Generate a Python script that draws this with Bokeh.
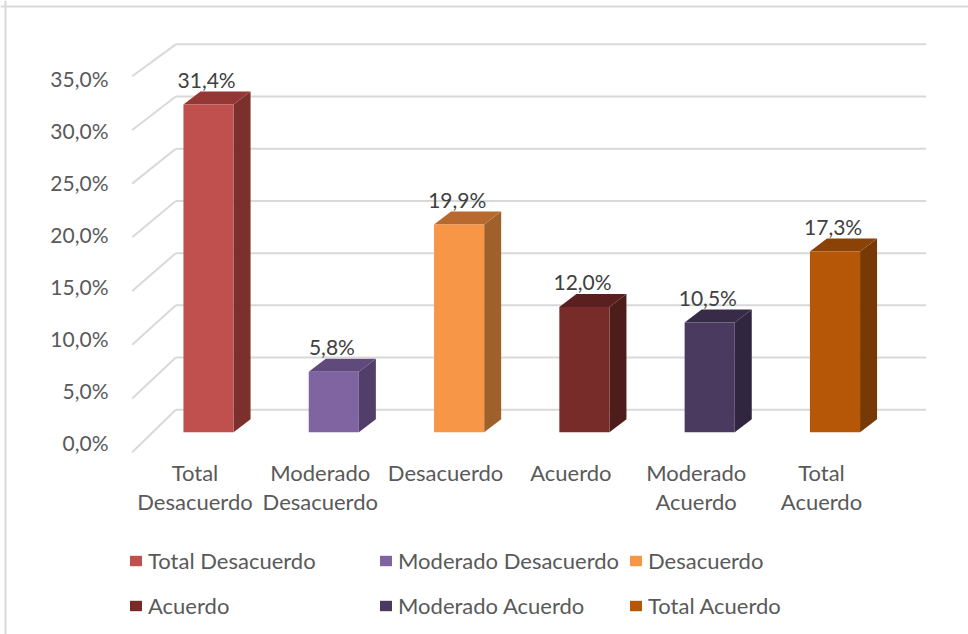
from bokeh.plotting import figure
from bokeh.models import ColumnDataSource, Legend, LegendItem, Span, Range1d
from bokeh.core.properties import value
from bokeh.embed import file_html
from bokeh.resources import INLINE

# ---------------- data ----------------
categories = ["Total Desacuerdo", "Moderado Desacuerdo", "Desacuerdo",
              "Acuerdo", "Moderado Acuerdo", "Total Acuerdo"]
axis_labels = ["Total\nDesacuerdo", "Moderado\nDesacuerdo", "Desacuerdo",
               "Acuerdo", "Moderado\nAcuerdo", "Total\nAcuerdo"]
values = [31.4, 5.8, 19.9, 12.0, 10.5, 17.3]
tick_values = [0, 5, 10, 15, 20, 25, 30, 35]
tick_labels = ["0,0%", "5,0%", "10,0%", "15,0%", "20,0%", "25,0%", "30,0%", "35,0%"]
front_colors = ["#C0504D", "#8064A2", "#F79646", "#772C2A", "#4B3A60", "#B65708"]
top_colors = ["#953735", "#604A7B", "#B8692F", "#5A201F", "#372B48", "#8A4206"]
side_colors = ["#7B302E", "#513F69", "#A0602C", "#4E1C1B", "#30263F", "#773905"]

# ---------------- layout constants ----------------
W, H = 968, 634
PX_X = 125.3          # pixels per category step
PX_Y = 10.44          # pixels per percent
X0_PX, Y0_PX = 208, 431.7
x_start = -X0_PX / PX_X
x_end = x_start + W / PX_X
y_end = Y0_PX / PX_Y
y_start = y_end - H / PX_Y

BAR_W = 0.4
DX = 17 / PX_X        # depth offset (x)
DY = 13 / PX_Y        # depth offset (y)
BACK_OFF = 2.15       # back wall offset (percent units)
BACK_L, BACK_R = -0.261, 5.728
FRONT_L = -0.609

p = figure(width=W, height=H, output_backend="svg", toolbar_location=None,
           x_range=Range1d(x_start, x_end), y_range=Range1d(y_start, y_end),
           x_axis_type=None, y_axis_type=None, min_border=0,
           background_fill_color="white", border_fill_color="white")
p.outline_line_color = None
p.xgrid.visible = False
p.ygrid.visible = False

# chart border (left & top)
p.add_layout(Span(location=(5 - X0_PX) / PX_X, dimension="height",
                  line_color="#D9D9D9", line_width=2))
p.add_layout(Span(location=(Y0_PX - 6) / PX_Y, dimension="width",
                  line_color="#D9D9D9", line_width=2))

# ---------------- 3D walls: grid lines ----------------
grid_color = "#D9D9D9"
gb = [t + BACK_OFF for t in tick_values]
gf = [-1.916 + 1.029 * t for t in tick_values]
p.segment(x0=[BACK_L] * len(tick_values), y0=gb, x1=[BACK_R] * len(tick_values), y1=gb,
          line_color=grid_color, line_width=2)
p.segment(x0=[BACK_L] * len(tick_values), y0=gb, x1=[FRONT_L] * len(tick_values), y1=gf,
          line_color=grid_color, line_width=2)

# y tick labels
p.text(x=[-0.798] * len(tick_values), y=[t * 0.997 - 0.99 for t in tick_values], text=tick_labels,
       text_align="right", text_baseline="middle", text_font=value("Lato"),
       text_font_size="21px", text_color="#595959")

# ---------------- bars ----------------
xs = list(range(len(values)))
src = ColumnDataSource(dict(x=xs, top=values, color=front_colors))

side_x, side_y, top_x, top_y = [], [], [], []
for i, v in enumerate(values):
    r = i + BAR_W / 2
    l = i - BAR_W / 2
    side_x.append([r, r + DX, r + DX, r])
    side_y.append([0, DY, v + DY, v])
    top_x.append([l, l + DX, r + DX, r])
    top_y.append([v, v + DY, v + DY, v])

p.patches(xs=side_x, ys=side_y, fill_color=side_colors, line_color=None)
p.patches(xs=top_x, ys=top_y, fill_color=top_colors, line_color=None)
front = p.vbar(x="x", top="top", bottom=0, width=BAR_W, fill_color="color",
               line_color=None, source=src)

# value labels
value_labels = [f"{v:.1f}".replace(".", ",") + "%" for v in values]
p.text(x=[i - 0.015 for i in xs], y=[v + 2.4 for v in values], text=value_labels,
       text_align="center", text_baseline="middle", text_font=value("Lato"),
       text_font_size="21px", text_color="#404040")

# category labels
p.text(x=[i - 0.108 for i in xs], y=[-2.57] * len(xs), text=axis_labels,
       text_align="center", text_baseline="top", text_font=value("Lato"),
       text_font_size="22px", text_color="#595959", text_line_height=1.06)

# ---------------- legend ----------------
items = [LegendItem(label=c, renderers=[front], index=i) for i, c in enumerate(categories)]
legend = Legend(items=items, ncols=3, location=(128, 6), orientation="horizontal",
                glyph_width=15, glyph_height=13, label_standoff=5, spacing=0,
                padding=0, margin=0, label_width=230, label_height=45,
                label_text_font="Lato", label_text_font_size="22px",
                label_text_color="#595959", border_line_color=None,
                background_fill_alpha=0)
p.add_layout(legend)

open("out.html", "w").write(file_html(p, INLINE))
